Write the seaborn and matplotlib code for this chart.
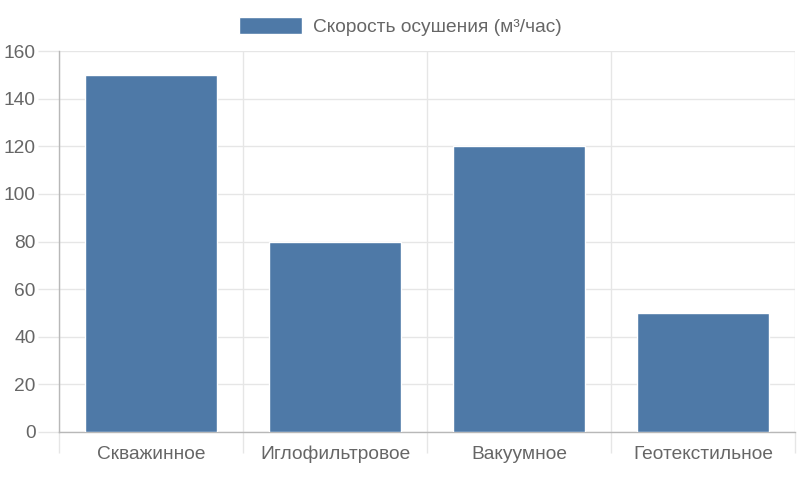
import matplotlib.pyplot as plt
import seaborn as sns
import numpy as np

# values
categories = ['Скважинное', 'Иглофильтровое', 'Вакуумное', 'Геотекстильное']
rates = [150, 80, 120, 50]
series_label = 'Скорость осушения (м³/час)'
y_ticks = [0, 20, 40, 60, 80, 100, 120, 140, 160]

bar_color = '#4e79a7'
grid_color = '#e6e6e6'
axis_color = '#b8b8b8'
text_color = '#666666'
fs = 13.8

sns.set_theme(style='white')
plt.rcParams['font.family'] = ['Liberation Sans', 'DejaVu Sans']

fig = plt.figure(figsize=(8, 4.8), dpi=100)
ax = fig.add_axes([0.07375, 0.1, 0.92, 0.79375])

sns.barplot(x=categories, y=rates, color=bar_color, saturation=1,
            width=0.72, ax=ax, label=series_label, zorder=3)

ax.set_xlim(-0.5, len(categories) - 0.5)
ax.set_ylim(0, 160)
ax.set_yticks(y_ticks)

# vertical grid at category boundaries
ax.set_xticks(np.arange(len(categories) + 1) - 0.5, minor=True)
ax.grid(True, which='minor', axis='x', color=grid_color, lw=1, zorder=0)
ax.grid(True, which='major', axis='y', color=grid_color, lw=1, zorder=0)
ax.tick_params(axis='x', which='minor', bottom=True, length=15,
               color=grid_color, width=1)
ax.tick_params(axis='x', which='major', bottom=True, length=0, pad=10,
               labelsize=fs, labelcolor=text_color)
ax.tick_params(axis='y', left=True, length=15, color=grid_color, width=1,
               pad=2, labelsize=fs, labelcolor=text_color)
# the axis line continues below the zero line at the left edge
ax.xaxis.get_minor_ticks()[0].tick1line.set_color(axis_color)
ax.yaxis.get_major_ticks()[0].tick1line.set_color(axis_color)

for side in ['top', 'right']:
    ax.spines[side].set_visible(False)
for side in ['left', 'bottom']:
    ax.spines[side].set_color(axis_color)
    ax.spines[side].set_linewidth(1)
ax.set_xlabel('')
ax.set_ylabel('')

leg = fig.legend(*ax.get_legend_handles_labels(), loc='center',
                 bbox_to_anchor=(0.5, 0.945), frameon=False,
                 fontsize=fs, handlelength=3.3, handleheight=1.0,
                 handletextpad=0.55)
for t in leg.get_texts():
    t.set_color(text_color)
if ax.get_legend() is not None:
    ax.get_legend().remove()

fig.savefig('out.png', dpi=100)
